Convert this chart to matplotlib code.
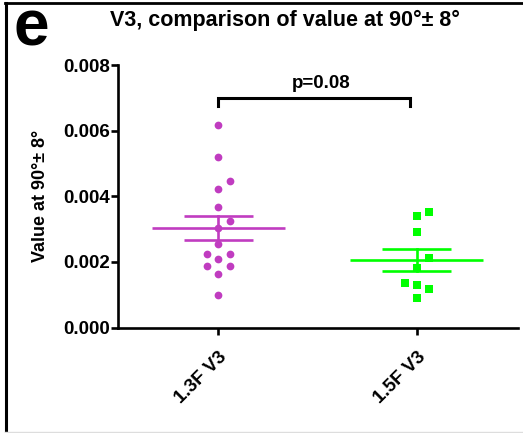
import numpy as np
import matplotlib
matplotlib.use("Agg")
import matplotlib.pyplot as plt
from matplotlib.lines import Line2D

plt.rcParams['font.family'] = ['Liberation Sans', 'DejaVu Sans']
plt.rcParams['font.weight'] = 'bold'

# Measured values at 90° ± 8° for each group
groups = ["1.3F V3", "1.5F V3"]
values_13f = [0.00618, 0.00519, 0.00445, 0.00423, 0.00368, 0.00325, 0.00302,
              0.00254, 0.00223, 0.00223, 0.00208, 0.00188, 0.00188, 0.00163, 0.00099]
values_15f = [0.00352, 0.00340, 0.00292, 0.00212, 0.00181, 0.00137, 0.00130,
              0.00117, 0.00090]
colors = ["#C03CC0", "#00FF00"]
markers = ["o", "s"]
p_label = "p=0.08"
yticks = [0.000, 0.002, 0.004, 0.006, 0.008]


def swarm_offsets(vals, min_gap, step):
    """Greedy column scatter: centre first, then right, then left."""
    order = np.argsort(vals, kind="stable")
    placed = []
    offs = np.zeros(len(vals))
    for i in order:
        v = vals[i]
        for slot in (0, 1, -1, 2, -2):
            if all(not (s == slot and abs(v - pv) < min_gap) for s, pv in placed):
                placed.append((slot, v))
                offs[i] = slot * step
                break
    return offs


W, H = 523, 433
fig = plt.figure(figsize=(W / 100, H / 100), dpi=100)
ax = fig.add_axes([118 / W, 1 - 327.5 / H, 400 / W, 262.5 / H])

for k, vals in enumerate([values_13f, values_15f]):
    vals = np.asarray(vals)
    offs = swarm_offsets(vals, 0.00032, 0.0605)
    ax.scatter(k + offs, vals, s=31 if markers[k] == "o" else 34,
               marker=markers[k], color=colors[k], linewidths=0, zorder=3)
    mean = vals.mean()
    sem = vals.std(ddof=1) / np.sqrt(len(vals))
    ax.plot([k - 0.336, k + 0.336], [mean, mean], color=colors[k], lw=1.9,
            solid_capstyle="butt", zorder=4)
    for y in (mean - sem, mean + sem):
        ax.plot([k - 0.174, k + 0.174], [y, y], color=colors[k], lw=1.9,
                solid_capstyle="butt", zorder=4)
    ax.plot([k, k], [mean - sem, mean + sem], color=colors[k], lw=1.9, zorder=4)

# significance bracket
yb, yl = 0.00699, 0.00675
ax.plot([-0.005, -0.005, 0.965, 0.965], [yl, yb, yb, yl], color="black",
        lw=2.2, solid_joinstyle="miter", clip_on=False)
ax.text(0.52, 0.00718, p_label, ha="center", va="bottom", fontsize=13.5,
        fontweight="bold")

ax.set_xlim(-0.507, 1.511)
ax.set_ylim(0, 0.008)
ax.set_yticks(yticks)
ax.set_yticklabels([f"{t:.3f}" for t in yticks])
ax.set_xticks(range(len(groups)))
ax.set_xticklabels(groups, rotation=45, ha="right", rotation_mode="anchor")

for side in ("top", "right"):
    ax.spines[side].set_visible(False)
for side in ("left", "bottom"):
    ax.spines[side].set_linewidth(1.9)
ax.tick_params(axis="both", width=1.9, length=5, labelsize=13.5, pad=1)
ax.tick_params(axis="x", pad=10)
for lab in ax.get_xticklabels() + ax.get_yticklabels():
    lab.set_fontweight("bold")

ax.set_ylabel("Value at 90°± 8°", fontsize=13, fontweight="bold")
ax.yaxis.set_label_coords(-0.172, 0.5)

fig.text(285 / W, 1 - 20 / H, "V3, comparison of value at 90°± 8°",
         ha="center", va="center", fontsize=15.5, fontweight="bold")
fig.text(13 / W, 1 - 46 / H, "e", ha="left", va="baseline", fontsize=46,
         fontweight="bold")

# panel frame
fig.add_artist(Line2D([6 / W, 6 / W], [0, 1 - 3 / H], color="black", lw=2.2,
                      transform=fig.transFigure))
fig.add_artist(Line2D([5 / W, 1], [1 - 3 / H, 1 - 3 / H], color="black", lw=2.0,
                      transform=fig.transFigure))
fig.add_artist(Line2D([5 / W, 1], [0.8 / H, 0.8 / H], color="#dddddd", lw=1.0,
                      transform=fig.transFigure))

fig.savefig("out.png", dpi=100)
